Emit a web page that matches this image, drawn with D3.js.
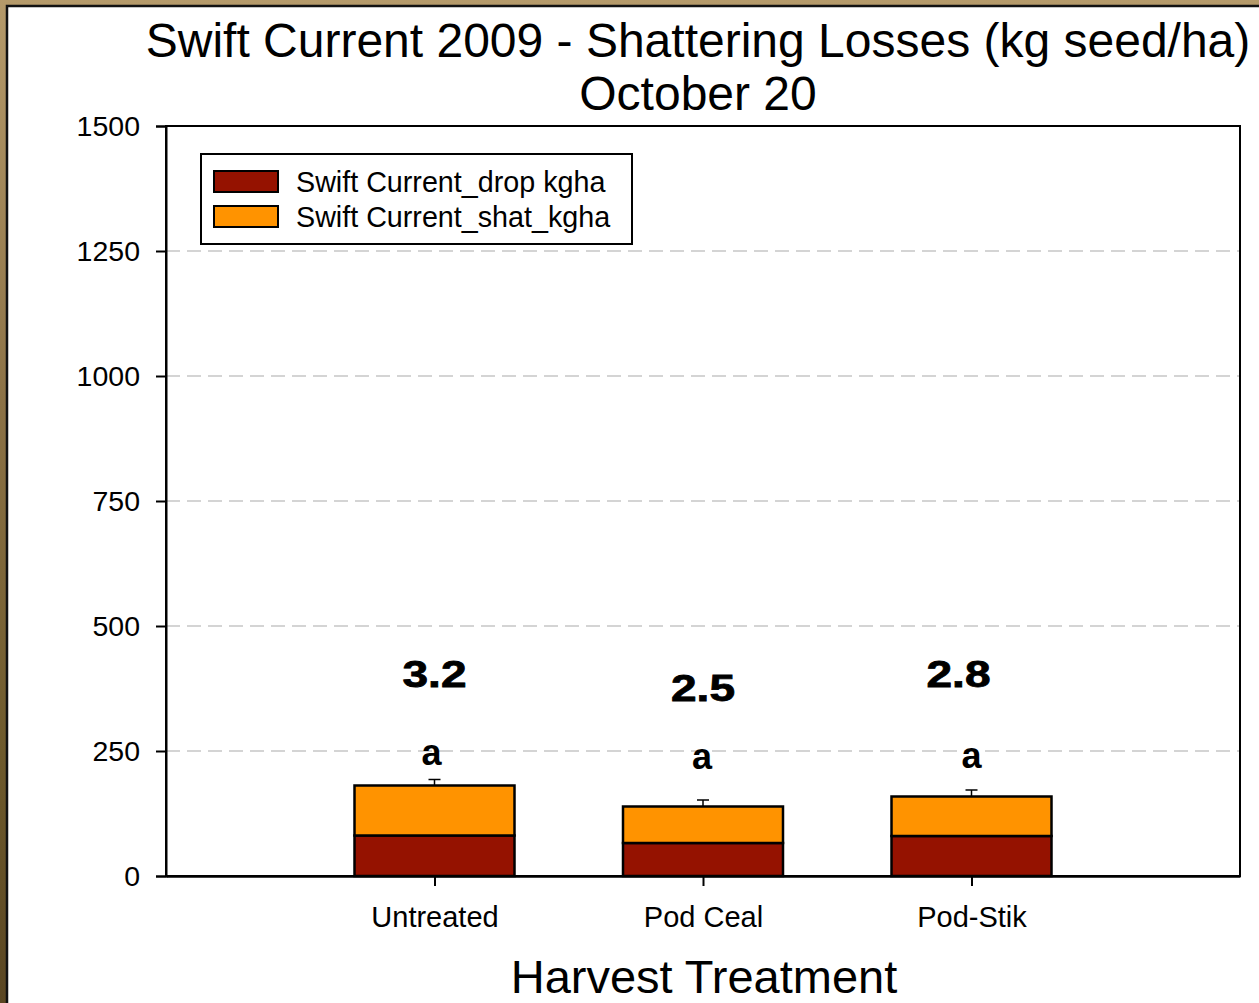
<!DOCTYPE html>
<html>
<head>
<meta charset="utf-8">
<script src="https://cdn.jsdelivr.net/npm/d3@7"></script>
<style>
  html, body { margin: 0; padding: 0; background: #fff; }
  svg { display: block; }
  text { font-family: "Liberation Sans", Arial, sans-serif; }
</style>
</head>
<body>
<svg id="chart" width="1259" height="1003"></svg>
<script>
// ---- data ----
const categories = ["Untreated", "Pod Ceal", "Pod-Stik"];
const dropValues = [81, 66, 80];
const shatValues = [100, 73, 79];
const errorValues = [12, 13, 13];
const totalLabels = ["3.2", "2.5", "2.8"];
const letterLabels = ["a", "a", "a"];
const seriesNames = ["Swift Current_drop kgha", "Swift Current_shat_kgha"];
const yTicks = [0, 250, 500, 750, 1000, 1250, 1500];
const titleLines = ["Swift Current 2009 - Shattering Losses (kg seed/ha)", "October 20"];
const xTitle = "Harvest Treatment";

// ---- layout ----
const W = 1259, H = 1003;
const plot = { left: 166, right: 1240, top: 126, bottom: 876 };
const colors = ["#951200", "#FF9300"];

const svg = d3.select("#chart");

// textured-ish background frame
const defs = svg.append("defs");
const g1 = defs.append("linearGradient").attr("id", "bgGrad").attr("x1", 0).attr("y1", 0).attr("x2", 0).attr("y2", 1);
g1.append("stop").attr("offset", "0%").attr("stop-color", "#b59a6a");
g1.append("stop").attr("offset", "40%").attr("stop-color", "#8c7246");
g1.append("stop").attr("offset", "75%").attr("stop-color", "#6e5a2c");
g1.append("stop").attr("offset", "100%").attr("stop-color", "#5a4622");
svg.append("rect").attr("width", W).attr("height", H).attr("fill", "url(#bgGrad)");

// white panel
svg.append("rect").attr("x", 7).attr("y", 6).attr("width", W).attr("height", H)
  .attr("fill", "#fff").attr("stroke", "#111").attr("stroke-width", 2.5);

const x = d3.scalePoint().domain(categories).range([plot.left, plot.right]).padding(1);
const y = d3.scaleLinear().domain([0, 1500]).range([plot.bottom, plot.top]);
const barW = 160;

// gridlines
svg.append("g").selectAll("line").data(yTicks.filter(t => t > 0 && t < 1500)).join("line")
  .attr("x1", plot.left).attr("x2", plot.right)
  .attr("y1", d => y(d)).attr("y2", d => y(d))
  .attr("stroke", "#d4d4d4").attr("stroke-width", 2).attr("stroke-dasharray", "14,7");

// stacked bars
const stackData = categories.map((c, i) => ({ cat: c, drop: dropValues[i], shat: shatValues[i] }));
const stack = d3.stack().keys(["drop", "shat"])(stackData);
svg.append("g").selectAll("g").data(stack).join("g")
  .attr("fill", (d, i) => colors[i])
  .selectAll("rect").data(d => d).join("rect")
  .attr("x", d => x(d.data.cat) - barW / 2)
  .attr("width", barW)
  .attr("y", d => y(d[1]))
  .attr("height", d => y(d[0]) - y(d[1]))
  .attr("stroke", "#000").attr("stroke-width", 2.5);

// error bars (upper only)
const eb = svg.append("g").attr("stroke", "#000").attr("stroke-width", 1.5);
categories.forEach((c, i) => {
  const tot = dropValues[i] + shatValues[i];
  const cx = x(c);
  eb.append("line").attr("x1", cx).attr("x2", cx).attr("y1", y(tot)).attr("y2", y(tot + errorValues[i]));
  eb.append("line").attr("x1", cx - 6).attr("x2", cx + 6).attr("y1", y(tot + errorValues[i])).attr("y2", y(tot + errorValues[i]));
});

// frame
svg.append("rect").attr("x", plot.left).attr("y", plot.top)
  .attr("width", plot.right - plot.left).attr("height", plot.bottom - plot.top)
  .attr("fill", "none").attr("stroke", "#000").attr("stroke-width", 2);

// y axis
const yAxis = svg.append("g").attr("transform", `translate(${plot.left},0)`)
  .call(d3.axisLeft(y).tickValues(yTicks).tickSize(10).tickPadding(16).tickFormat(d3.format("d")));
yAxis.select(".domain").attr("stroke-width", 2);
yAxis.selectAll(".tick line").attr("stroke-width", 2);
yAxis.selectAll("text").attr("font-size", 28.5).attr("fill", "#000")
  .attr("font-family", '"Liberation Sans", Arial, sans-serif');

// x axis
const xAxis = svg.append("g").attr("transform", `translate(0,${plot.bottom})`)
  .call(d3.axisBottom(x).tickSize(10).tickPadding(20).tickSizeOuter(0));
xAxis.select(".domain").attr("stroke-width", 2.5);
xAxis.selectAll(".tick line").attr("stroke-width", 2);
xAxis.selectAll("text").attr("font-size", 29).attr("fill", "#000")
  .attr("font-family", '"Liberation Sans", Arial, sans-serif');

// annotations (value labels and letters)
const numY = [378, 350, 378];
const numDx = [0, 0, -13];
const letY = [222, 214, 216];
const letDx = [-3, -1, 0];
const ann = svg.append("g").attr("font-weight", "bold").attr("text-anchor", "middle").attr("fill", "#000");
categories.forEach((c, i) => {
  ann.append("text").attr("x", x(c) + numDx[i]).attr("y", y(numY[i]))
    .attr("font-size", 36).attr("textLength", 64).attr("lengthAdjust", "spacingAndGlyphs")
    .attr("stroke", "#000").attr("stroke-width", 0.8)
    .text(totalLabels[i]);
  ann.append("text").attr("x", x(c) + letDx[i]).attr("y", y(letY[i]))
    .attr("font-size", 36).text(letterLabels[i]);
});

// title
svg.append("text").attr("x", 698).attr("y", 57).attr("text-anchor", "middle")
  .attr("font-size", 48).text(titleLines[0]);
svg.append("text").attr("x", 698).attr("y", 110).attr("text-anchor", "middle")
  .attr("font-size", 48).text(titleLines[1]);

// x axis title
svg.append("text").attr("x", 704).attr("y", 993).attr("text-anchor", "middle")
  .attr("font-size", 47).text(xTitle);

// legend
const lg = svg.append("g");
lg.append("rect").attr("x", 201).attr("y", 154).attr("width", 431).attr("height", 90)
  .attr("fill", "#fff").attr("stroke", "#000").attr("stroke-width", 2);
seriesNames.forEach((name, i) => {
  lg.append("rect").attr("x", 214).attr("y", 171 + i * 35).attr("width", 64).attr("height", 21)
    .attr("fill", colors[i]).attr("stroke", "#000").attr("stroke-width", 2);
  lg.append("text").attr("x", 296).attr("y", 192 + i * 35).attr("font-size", 28.7).text(name);
});
</script>
</body>
</html>
